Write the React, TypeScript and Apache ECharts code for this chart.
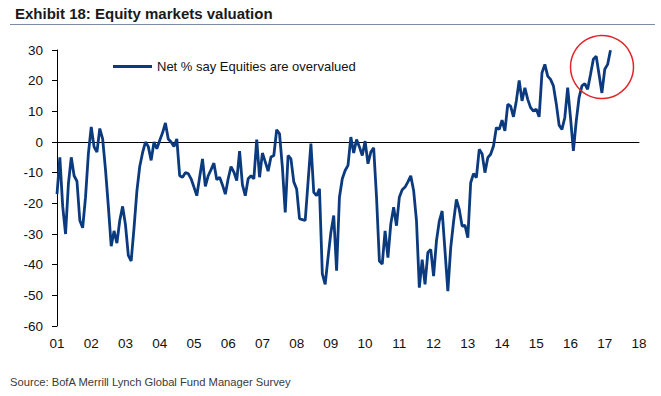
import React, { useEffect, useRef } from "react";
import * as echarts from "echarts";

// Net % of fund managers saying equities are overvalued, monthly, Jan 2001 onwards
const y2001 = [-17, -5, -21, -30, -13.6, -5, -11, -12.8, -25.6, -28, -18, -3.8];
const y2002 = [4.9, -1.6, -3.3, 4.4, 1, -9, -21, -34, -29, -33, -25.6, -21];
const y2003 = [-27, -37, -38.8, -28, -16, -8, -3.5, 0, -1.5, -6, 0, -2.2];
const y2004 = [0.5, 3, 6.2, 1, 0, -1.5, 1, -11, -11.5, -10, -10.3, -12];
const y2005 = [-14.7, -17.5, -11.5, -5.5, -14.5, -11, -9, -6.9, -12.3, -11.5, -14, -17];
const y2006 = [-12, -8, -9.8, -12.6, -3, -14, -17.5, -12, -11, -12, 0.8, -11.5];
const y2007 = [-3.6, -6.5, -9.5, -4.9, -4.4, 4, 2.7, -8.2, -23, -4.4, -5.5, -13];
const y2008 = [-15.3, -25, -25.3, -25.6, -13, -0.5, -16.4, -17.5, -15.3, -43, -46.4, -37.7];
const y2009 = [-29.5, -24, -42, -18, -12, -9.3, -7.6, 1.6, -3.6, 0.8, -1.6, -4.4];
const y2010 = [0.3, -7.1, -3.3, -1.9, -18, -38.8, -39.8, -29, -37.7, -26.7, -21.3, -27.3];
const y2011 = [-18, -15.6, -14.7, -13, -11, -15.8, -25.6, -47.5, -38.4, -46.4, -36, -35];
const y2012 = [-43.7, -32.3, -25.8, -22.5, -35.5, -48.6, -34.5, -26, -18.7, -22, -27.4, -27.2];
const y2013 = [-31.2, -13.3, -10.3, -11.6, -2.4, -3.8, -10, -5.1, -4, -1.3, 4.7, 4.1];
const y2014 = [7.1, 3.6, 12.3, 11.7, 8.2, 13.4, 20.1, 13.4, 17.7, 13.9, 11.2, 10.1];
const y2015 = [10.7, 8.2, 22.6, 25.3, 21.5, 20.4, 18.3, 12.5, 5.5, 4.1, 8, 17.7];
const y2016 = [7.9, -2.9, 6.8, 14.5, 18.3, 19, 17.2, 22, 27, 28, 22, 16];
const y2017 = [23.7, 25.3, 29.9];

const netOvervalued = [
  ...y2001, ...y2002, ...y2003, ...y2004, ...y2005, ...y2006, ...y2007, ...y2008, ...y2009,
  ...y2010, ...y2011, ...y2012, ...y2013, ...y2014, ...y2015, ...y2016, ...y2017,
];

const startYear = 2001;
const endYear = 2018;
const yMin = -60;
const yMax = 30;
const yStep = 10;

const seriesName = "Net % say Equities are overvalued";
const titleText = "Exhibit 18: Equity markets valuation";
const sourceText = "Source: BofA Merrill Lynch Global Fund Manager Survey";

const LINE = "#0b3b7e";
const FONT = '"Liberation Sans", Arial, Helvetica, sans-serif';

export default function App() {
  const ref = useRef<HTMLDivElement>(null);
  useEffect(() => {
    if (!ref.current) return;
    const chart = echarts.init(ref.current, undefined, { renderer: "svg" });
    const maxMonth = (endYear - startYear) * 12;
    const data = netOvervalued.map((v, i) => [i, v]);
    chart.setOption({
      animation: false,
      backgroundColor: "#ffffff",
      textStyle: { fontFamily: FONT },
      title: {
        text: titleText,
        left: 10,
        top: 1,
        textStyle: { fontFamily: FONT, fontSize: 15, fontWeight: "bold", color: "#1a1a1a" },
      },
      legend: {
        left: 108,
        top: 55,
        icon: "rect",
        itemWidth: 39,
        itemHeight: 3,
        data: [seriesName],
        textStyle: { fontFamily: FONT, fontSize: 13, color: "#111" },
      },
      grid: { left: 57, right: 22, top: 50, bottom: 70, containLabel: false },
      xAxis: [
        {
          type: "value",
          min: 0,
          max: maxMonth,
          interval: 12,
          position: "bottom",
          axisLine: { show: false, onZero: false },
          axisTick: { show: false },
          splitLine: { show: false },
          axisLabel: {
            margin: 10,
            fontSize: 13.5,
            color: "#111",
            fontFamily: FONT,
            formatter: (v: number) => String(((startYear + v / 12) % 100)).padStart(2, "0"),
          },
        },
        {
          type: "value",
          min: 0,
          max: maxMonth,
          position: "bottom",
          axisLine: { show: true, onZero: true, lineStyle: { color: "#000", width: 1 } },
          axisTick: { show: false },
          axisLabel: { show: false },
          splitLine: { show: false },
        },
      ],
      yAxis: {
        type: "value",
        min: yMin,
        max: yMax,
        interval: yStep,
        axisLine: { show: true, lineStyle: { color: "#000", width: 1 } },
        axisTick: { show: true, length: 5, lineStyle: { color: "#000" } },
        splitLine: { show: false },
        axisLabel: { margin: 14, fontSize: 13.5, color: "#111", fontFamily: FONT },
      },
      series: [
        {
          name: seriesName,
          type: "line",
          data,
          xAxisIndex: 0,
          symbol: "none",
          lineStyle: { color: LINE, width: 2.8 },
          itemStyle: { color: LINE },
          z: 3,
        },
      ],
      graphic: [
        {
          type: "line",
          shape: { x1: 10, y1: 24.5, x2: 655, y2: 24.5 },
          style: { stroke: "#7d8ca6", lineWidth: 1 },
        },
        {
          type: "circle",
          shape: { cx: 602, cy: 67, r: 31.5 },
          style: { fill: "none", stroke: "#e0262b", lineWidth: 1.5 },
          z: 10,
        },
        {
          type: "text",
          left: 10,
          top: 376,
          style: { text: sourceText, fontSize: 11.2, fontFamily: FONT, fill: "#3a3a3a" },
        },
      ],
    });
    return () => chart.dispose();
  }, []);
  return (
    <div
      ref={ref}
      style={{ position: "absolute", left: 0, top: 0, width: 661, height: 396 }}
    />
  );
}
